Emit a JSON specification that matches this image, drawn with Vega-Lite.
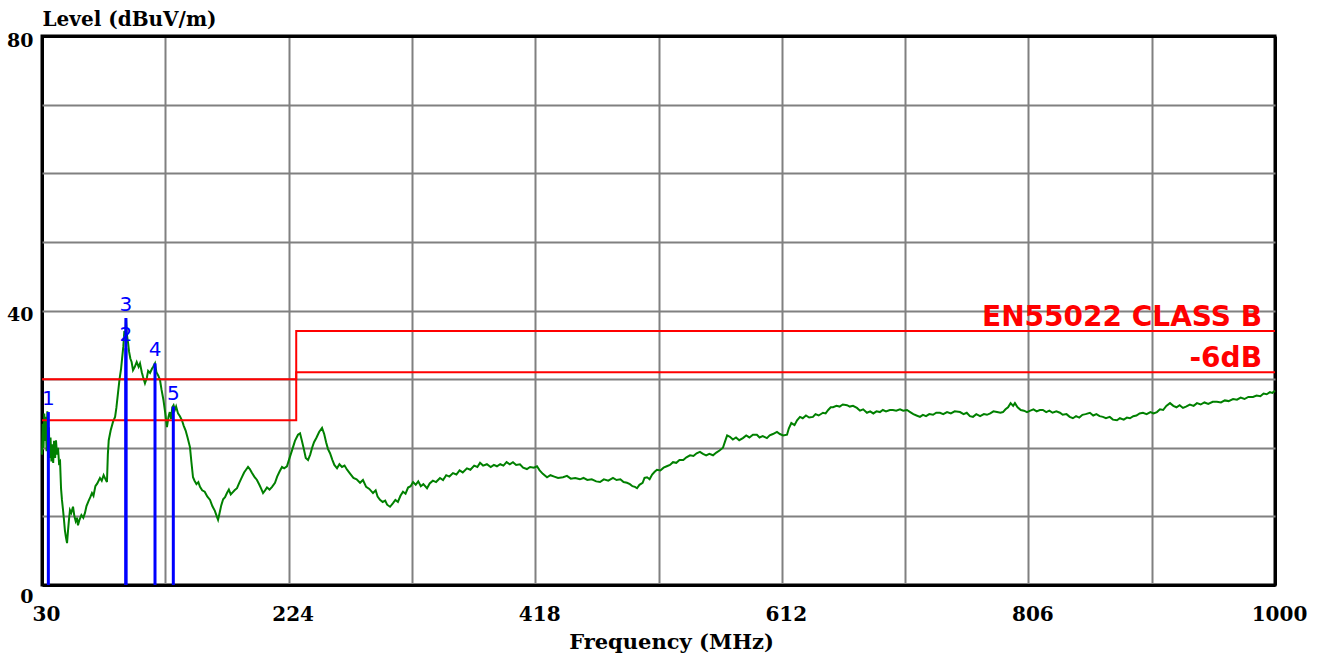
{
  "$schema": "https://vega.github.io/schema/vega-lite/v6.json",
  "width": 1233,
  "height": 549,
  "autosize": {"type": "none"},
  "padding": {"left": 42, "top": 36, "right": 45, "bottom": 71},
  "background": "white",
  "config": {
    "view": {"stroke": "black", "strokeWidth": 3},
    "axis": {
      "domain": false,
      "ticks": false,
      "tickSize": 0,
      "gridOpacity": 1,
      "labelFont": "DejaVu Serif",
      "labelFontWeight": "bold",
      "labelColor": "black",
      "titleFont": "DejaVu Serif",
      "titleFontWeight": "bold",
      "titleColor": "black"
    }
  },
  "datasets": {
    "emission": [
      {"f":30,"v":19},{"f":30.6,"v":23.5},{"f":31.2,"v":20},{"f":31.8,"v":25},{"f":32.4,"v":21},{"f":33,"v":24.5},{"f":33.6,"v":19.5},{"f":34.2,"v":25.3},{"f":34.8,"v":20.5},{"f":35.4,"v":23},{"f":36,"v":18.5},{"f":36.7,"v":21.5},{"f":37.4,"v":18},{"f":38.1,"v":20.5},{"f":38.8,"v":17.8},{"f":39.5,"v":21},{"f":40.3,"v":18.5},{"f":41,"v":21.1},{"f":41.8,"v":19},{"f":42.6,"v":20},{"f":43.4,"v":17.8},{"f":44.2,"v":18},{"f":45,"v":14},{"f":45.7,"v":12.4},{"f":46.5,"v":11},{"f":47.3,"v":9.5},{"f":48,"v":8},{"f":48.8,"v":7},{"f":49.7,"v":6.1},{"f":50.5,"v":8},{"f":51.2,"v":9.5},{"f":52,"v":10.9},{"f":53,"v":10.5},{"f":54.4,"v":11.4},{"f":55.5,"v":10},{"f":56.5,"v":9.3},{"f":57.5,"v":9.8},{"f":58.3,"v":8.7},{"f":59.5,"v":9.5},{"f":61,"v":10.2},{"f":62.5,"v":9.8},{"f":63.8,"v":10.5},{"f":65,"v":11.5},{"f":66.5,"v":12.2},{"f":68,"v":12.8},{"f":69.3,"v":13.4},{"f":70.5,"v":13},{"f":72,"v":14.4},{"f":73.5,"v":14.8},{"f":75.6,"v":15.6},{"f":77,"v":15.2},{"f":78.5,"v":16},{"f":80,"v":15.4},{"f":81.1,"v":15},{"f":81.8,"v":19},{"f":82.5,"v":21.1},{"f":84,"v":22.5},{"f":85.9,"v":23.8},{"f":87.5,"v":24.5},{"f":88.5,"v":25.8},{"f":89.8,"v":28},{"f":91,"v":30},{"f":92.2,"v":31.5},{"f":92.9,"v":32.8},{"f":94,"v":34.8},{"f":94.8,"v":37},{"f":95.5,"v":36},{"f":96.1,"v":38.9},{"f":96.8,"v":36.5},{"f":97.7,"v":35.3},{"f":98.5,"v":34},{"f":99.5,"v":33},{"f":100.5,"v":32.5},{"f":101.6,"v":31.3},{"f":103,"v":31.8},{"f":104.5,"v":32.5},{"f":106,"v":31.8},{"f":107.1,"v":32.3},{"f":108.5,"v":31},{"f":109.5,"v":30.3},{"f":111,"v":29.4},{"f":112.5,"v":30.2},{"f":113.5,"v":31.2},{"f":115,"v":30.9},{"f":116.5,"v":31.5},{"f":117.5,"v":31.8},{"f":118.9,"v":32.3},{"f":120,"v":31},{"f":121.5,"v":30.5},{"f":122.8,"v":29.9},{"f":124,"v":28.5},{"f":125.5,"v":27},{"f":127,"v":25},{"f":128.3,"v":23},{"f":129.5,"v":24.5},{"f":130.5,"v":25.2},{"f":131.5,"v":24.2},{"f":132.5,"v":25.9},{"f":133.5,"v":26.2},{"f":134.5,"v":25.5},{"f":135.5,"v":26},{"f":137,"v":25},{"f":138.5,"v":24.6},{"f":140.1,"v":24},{"f":141.5,"v":23.2},{"f":143,"v":22.5},{"f":144.5,"v":21.5},{"f":146.4,"v":20.1},{"f":147.5,"v":18},{"f":148.8,"v":15.7},{"f":150,"v":15.2},{"f":151.5,"v":14.7},{"f":153,"v":15},{"f":154.3,"v":14.3},{"f":156,"v":13.8},{"f":158,"v":13.6},{"f":160,"v":12.9},{"f":162.2,"v":12.4},{"f":164,"v":11.5},{"f":166,"v":10.8},{"f":167.5,"v":10},{"f":168.5,"v":9.5},{"f":169.5,"v":10.3},{"f":171,"v":11.6},{"f":172.5,"v":12.5},{"f":174,"v":12.8},{"f":175.5,"v":13.4},{"f":177,"v":13.9},{"f":178.5,"v":13.2},{"f":180,"v":13.5},{"f":181.5,"v":13.8},{"f":183.4,"v":14.1},{"f":185,"v":14.8},{"f":187,"v":15.6},{"f":189,"v":16.4},{"f":190.5,"v":16.8},{"f":192.1,"v":17.2},{"f":193.5,"v":16.9},{"f":195,"v":16.4},{"f":197,"v":15.8},{"f":199.1,"v":15.3},{"f":201,"v":14.6},{"f":202.5,"v":14},{"f":203.9,"v":13.4},{"f":205.5,"v":13.8},{"f":207,"v":14.2},{"f":209,"v":13.9},{"f":211,"v":14.3},{"f":213.3,"v":14.9},{"f":215,"v":15.8},{"f":216.8,"v":16.5},{"f":218.8,"v":17.2},{"f":220.5,"v":17},{"f":222.7,"v":17.3},{"f":225.1,"v":18.7},{"f":227,"v":19.8},{"f":229,"v":21},{"f":231.4,"v":21.9},{"f":233,"v":22.1},{"f":234.5,"v":21},{"f":236,"v":19.8},{"f":237.5,"v":18.5},{"f":239.3,"v":18.2},{"f":241,"v":19},{"f":242.5,"v":20},{"f":244,"v":20.8},{"f":246,"v":21.5},{"f":248,"v":22.3},{"f":250.3,"v":22.9},{"f":252,"v":22},{"f":253.5,"v":20.8},{"f":255,"v":19.8},{"f":256.6,"v":19.2},{"f":258.5,"v":18.2},{"f":260,"v":17.5},{"f":262.1,"v":17},{"f":264,"v":17.6},{"f":266,"v":17.2},{"f":268,"v":17.4},{"f":270,"v":16.8},{"f":272.5,"v":16.2},{"f":275,"v":15.6},{"f":277.5,"v":15.4},{"f":280.2,"v":14.9},{"f":282.5,"v":15.3},{"f":285,"v":14.3},{"f":287.5,"v":14},{"f":290.4,"v":13.4},{"f":292.5,"v":13.8},{"f":294,"v":12.9},{"f":295.9,"v":12.4},{"f":298,"v":12.1},{"f":300,"v":12.3},{"f":301.5,"v":11.7},{"f":303.8,"v":11.4},{"f":306,"v":11.9},{"f":308,"v":12.4},{"f":310,"v":12.1},{"f":312,"v":13},{"f":314,"v":13.6},{"f":316,"v":13.3},{"f":318,"v":14.2},{"f":320,"v":14.4},{"f":321.9,"v":15},{"f":324,"v":14.6},{"f":326,"v":15.1},{"f":328,"v":14.4},{"f":330,"v":14.7},{"f":332.9,"v":14.1},{"f":335,"v":14.8},{"f":337.5,"v":15.2},{"f":340,"v":15},{"f":343.1,"v":15.6},{"f":345.5,"v":15.3},{"f":348,"v":16},{"f":350.5,"v":15.8},{"f":353.3,"v":16.3},{"f":356,"v":16.1},{"f":358.5,"v":16.7},{"f":361,"v":16.4},{"f":364.3,"v":17},{"f":367,"v":16.8},{"f":370,"v":17.4},{"f":372.5,"v":17.2},{"f":374.6,"v":17.8},{"f":377,"v":17.4},{"f":380,"v":17.6},{"f":383,"v":17.2},{"f":385.5,"v":17.5},{"f":387.9,"v":17.3},{"f":390.5,"v":17.6},{"f":393,"v":17.4},{"f":395.5,"v":17.9},{"f":398,"v":17.6},{"f":400.5,"v":17.9},{"f":403,"v":17.5},{"f":406,"v":17.6},{"f":408.5,"v":17.1},{"f":411.5,"v":16.9},{"f":414,"v":17.2},{"f":417,"v":17.1},{"f":419.4,"v":17.3},{"f":421.5,"v":16.7},{"f":424,"v":16.2},{"f":427.3,"v":15.7},{"f":430,"v":16},{"f":433,"v":15.8},{"f":436,"v":15.6},{"f":439.9,"v":15.7},{"f":443,"v":15.9},{"f":446,"v":15.5},{"f":449.5,"v":15.6},{"f":453.2,"v":15.4},{"f":456,"v":15.6},{"f":459,"v":15.3},{"f":462.5,"v":15.4},{"f":466,"v":15.1},{"f":469,"v":15},{"f":472,"v":15.4},{"f":475.5,"v":15.2},{"f":479.2,"v":15.6},{"f":482,"v":15.3},{"f":485,"v":15.4},{"f":487.5,"v":15},{"f":490.2,"v":14.9},{"f":492.5,"v":14.7},{"f":494.5,"v":14.4},{"f":496.5,"v":14.3},{"f":498.1,"v":14.1},{"f":500,"v":14.6},{"f":502.5,"v":14.9},{"f":504,"v":15.6},{"f":506,"v":15.7},{"f":508,"v":15.4},{"f":510,"v":16.1},{"f":512,"v":16.5},{"f":513.8,"v":16.8},{"f":516.5,"v":16.7},{"f":519,"v":17.1},{"f":521.5,"v":17.3},{"f":524,"v":17.5},{"f":526.4,"v":17.9},{"f":529,"v":17.8},{"f":531.5,"v":18.2},{"f":534.5,"v":18.2},{"f":537,"v":18.6},{"f":539.8,"v":18.9},{"f":542.5,"v":18.8},{"f":545,"v":19.2},{"f":547.6,"v":19.4},{"f":550,"v":19.1},{"f":552.5,"v":18.9},{"f":555,"v":19.1},{"f":557.9,"v":18.9},{"f":560.5,"v":19.3},{"f":563,"v":19.6},{"f":565.7,"v":20},{"f":567.5,"v":21},{"f":569,"v":21.8},{"f":571.2,"v":21.6},{"f":573.5,"v":21.2},{"f":576,"v":21.5},{"f":578.5,"v":21.1},{"f":581.4,"v":21.4},{"f":584,"v":21.8},{"f":586.5,"v":21.5},{"f":589.3,"v":21.9},{"f":592.4,"v":21.9},{"f":594.5,"v":21.5},{"f":597,"v":21.7},{"f":600.3,"v":21.4},{"f":602.5,"v":21.8},{"f":605,"v":22},{"f":608.2,"v":22.3},{"f":610.5,"v":22},{"f":613,"v":21.8},{"f":616.1,"v":21.9},{"f":617.5,"v":22.8},{"f":619.5,"v":23.6},{"f":622,"v":23.3},{"f":624,"v":24},{"f":626.3,"v":24.5},{"f":628.5,"v":24.3},{"f":631,"v":24.7},{"f":633.5,"v":24.4},{"f":636.5,"v":24.5},{"f":638.5,"v":24.9},{"f":641,"v":24.7},{"f":644.4,"v":25.1},{"f":646.5,"v":25},{"f":648.5,"v":25.5},{"f":650.5,"v":25.9},{"f":652.3,"v":25.9},{"f":655,"v":26.1},{"f":657.5,"v":26},{"f":660,"v":26.3},{"f":663.3,"v":26.2},{"f":665.5,"v":26},{"f":668,"v":26.1},{"f":671.1,"v":25.8},{"f":673.5,"v":25.4},{"f":676,"v":25.6},{"f":679,"v":25.1},{"f":681.5,"v":25.3},{"f":684,"v":25},{"f":686.5,"v":25.3},{"f":689.2,"v":25.2},{"f":691.5,"v":25.5},{"f":694,"v":25.3},{"f":697,"v":25.5},{"f":699.4,"v":25.5},{"f":702,"v":25.4},{"f":705,"v":25.6},{"f":707.5,"v":25.4},{"f":710.5,"v":25.5},{"f":713,"v":25.2},{"f":715.5,"v":24.9},{"f":718,"v":24.7},{"f":720.7,"v":24.5},{"f":723,"v":24.8},{"f":725.5,"v":24.6},{"f":728,"v":24.9},{"f":731,"v":24.8},{"f":733.5,"v":25.1},{"f":736.4,"v":25.1},{"f":739,"v":24.9},{"f":742,"v":25.2},{"f":745,"v":25},{"f":748,"v":25.3},{"f":752.2,"v":25.2},{"f":755,"v":24.9},{"f":757.5,"v":25.1},{"f":760,"v":24.6},{"f":762.4,"v":24.5},{"f":765,"v":24.9},{"f":768,"v":24.6},{"f":771,"v":24.9},{"f":773.4,"v":24.8},{"f":776,"v":25},{"f":778.5,"v":25.3},{"f":781.3,"v":25.2},{"f":784,"v":25.1},{"f":786,"v":25.2},{"f":788,"v":25.6},{"f":790,"v":25.9},{"f":792,"v":26.5},{"f":794,"v":26.1},{"f":795.4,"v":26.5},{"f":797.5,"v":25.9},{"f":800,"v":25.5},{"f":802.5,"v":25.4},{"f":804.9,"v":25.2},{"f":807.5,"v":25.4},{"f":810,"v":25.6},{"f":812.5,"v":25.3},{"f":815,"v":25.5},{"f":817.4,"v":25.5},{"f":820,"v":25.2},{"f":822.5,"v":25.4},{"f":825,"v":25.1},{"f":828,"v":25.3},{"f":830.8,"v":25.1},{"f":833,"v":24.8},{"f":836,"v":24.9},{"f":838.5,"v":24.5},{"f":841,"v":24.3},{"f":843.5,"v":24.6},{"f":846,"v":24.4},{"f":848.5,"v":24.8},{"f":851,"v":24.9},{"f":854.4,"v":25.1},{"f":857,"v":24.7},{"f":859.5,"v":24.9},{"f":862,"v":24.6},{"f":864.6,"v":24.5},{"f":867,"v":24.3},{"f":870,"v":24.5},{"f":872.5,"v":24.1},{"f":875.7,"v":24},{"f":878,"v":24.3},{"f":881,"v":24.1},{"f":883.5,"v":24.4},{"f":885.9,"v":24.3},{"f":888.5,"v":24.6},{"f":891,"v":24.7},{"f":893.5,"v":25},{"f":896.1,"v":25.1},{"f":899,"v":24.9},{"f":902,"v":25.2},{"f":904.5,"v":25},{"f":907.1,"v":25.2},{"f":909.5,"v":25.6},{"f":912,"v":25.5},{"f":914.5,"v":26.1},{"f":917.4,"v":26.5},{"f":920,"v":26.1},{"f":922.5,"v":25.9},{"f":925,"v":26.2},{"f":927.6,"v":25.8},{"f":930,"v":26},{"f":933,"v":26.3},{"f":936,"v":26.1},{"f":938.6,"v":26.5},{"f":941.5,"v":26.3},{"f":944.5,"v":26.6},{"f":947.5,"v":26.4},{"f":951,"v":26.7},{"f":954.3,"v":26.7},{"f":957.5,"v":26.6},{"f":960.5,"v":26.9},{"f":963.5,"v":26.8},{"f":967,"v":27.1},{"f":970.1,"v":27},{"f":973,"v":27.3},{"f":976,"v":27.1},{"f":979,"v":27.4},{"f":982.7,"v":27.4},{"f":985.5,"v":27.6},{"f":988.5,"v":27.5},{"f":991,"v":27.9},{"f":993.5,"v":27.8},{"f":996,"v":28.1},{"f":998,"v":28},{"f":1000,"v":28.3}
    ],
    "limits": [
      {"lim":"EN55022 CLASS B","f":30,"v":30},
      {"lim":"EN55022 CLASS B","f":230,"v":37},
      {"lim":"EN55022 CLASS B","f":1000,"v":37},
      {"lim":"-6dB","f":30,"v":24},
      {"lim":"-6dB","f":230,"v":31},
      {"lim":"-6dB","f":1000,"v":31}
    ],
    "limitLabels": [
      {"t":"EN55022 CLASS B","f":1000,"v":37},
      {"t":"-6dB","f":1000,"v":31}
    ],
    "markers": [
      {"n":"1","f":35,"v":25.2},
      {"n":"2","f":96,"v":34.5},
      {"n":"3","f":96,"v":38.9},
      {"n":"4","f":118.9,"v":32.3},
      {"n":"5","f":133.3,"v":26}
    ]
  },
  "encoding": {
    "x": {
      "field": "f", "type": "quantitative",
      "scale": {"domain": [30, 1000], "nice": false, "zero": false},
      "axis": {
        "values": [30,127,224,321,418,515,612,709,806,903,1000],
        "labelExpr": "indexof([30,224,418,612,806,1000], datum.value) >= 0 ? datum.label : ''",
        "format": "d",
        "grid": true,
        "gridColor": {"condition": {"test": "datum.value == 30 || datum.value == 1000", "value": "black"}, "value": "#808080"},
        "gridWidth": {"condition": {"test": "datum.value == 30 || datum.value == 1000", "value": 3}, "value": 2},
        "labelFontSize": 20,
        "labelBaseline": "alphabetic",
        "labelPadding": 35,
        "labelOffset": 4,
        "labelFlush": false,
        "labelOverlap": false,
        "title": "Frequency (MHz)",
        "titleFontSize": 21,
        "titleX": 629,
        "titleY": 63,
        "titleAlign": "center",
        "titleBaseline": "alphabetic"
      }
    },
    "y": {
      "field": "v", "type": "quantitative",
      "scale": {"domain": [0, 80], "nice": false, "zero": true},
      "axis": {
        "values": [0,10,20,30,40,50,60,70,80],
        "labelExpr": "datum.value % 40 == 0 ? datum.label : ''",
        "grid": true,
        "gridColor": {"condition": {"test": "datum.value == 0 || datum.value == 80", "value": "black"}, "value": "#808080"},
        "gridWidth": {"condition": {"test": "datum.value == 0 || datum.value == 80", "value": 3}, "value": 2},
        "labelFontSize": 19,
        "labelBaseline": "middle",
        "labelPadding": 9,
        "labelOffset": {"condition": {"test": "datum.value == 0", "value": 11}, "value": 4},
        "labelOverlap": false,
        "title": "Level (dBuV/m)",
        "titleFontSize": 20,
        "titleAngle": 0,
        "titleX": 0,
        "titleY": -11,
        "titleAlign": "left",
        "titleBaseline": "alphabetic"
      }
    }
  },
  "layer": [
    {
      "data": {"name": "emission"},
      "mark": {"type": "line", "color": "#008000", "strokeWidth": 2, "interpolate": "linear"}
    },
    {
      "data": {"name": "limits"},
      "mark": {"type": "line", "color": "#ff0000", "strokeWidth": 2, "interpolate": "step-after"},
      "encoding": {
        "detail": {"field": "lim"}
      }
    },
    {
      "data": {"name": "markers"},
      "mark": {"type": "rule", "color": "#0000ff", "strokeWidth": 3},
      "encoding": {
        "y2": {"datum": 0}
      }
    },
    {
      "data": {"name": "markers"},
      "mark": {"type": "text", "color": "#0000ff", "font": "DejaVu Sans", "fontSize": 20, "baseline": "alphabetic", "align": "center", "dy": -7},
      "encoding": {
        "text": {"field": "n"}
      }
    },
    {
      "data": {"name": "limitLabels"},
      "mark": {"type": "text", "color": "#ff0000", "font": "DejaVu Sans", "fontWeight": "bold", "fontSize": 28, "baseline": "alphabetic", "align": "right", "dx": -13, "dy": -5},
      "encoding": {
        "text": {"field": "t"}
      }
    }
  ]
}
